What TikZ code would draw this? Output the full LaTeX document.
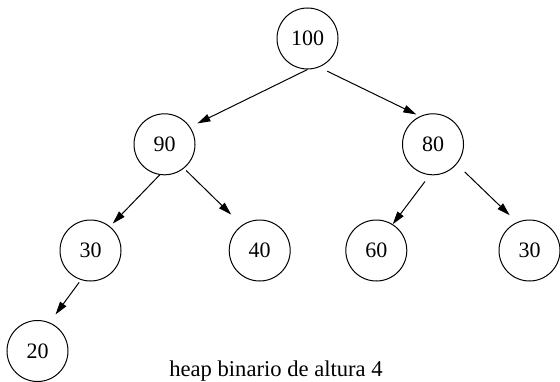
\documentclass[tikz,border=0pt]{standalone}
\usepackage{fontspec}
\setmainfont{Liberation Serif}
\usetikzlibrary{arrows.meta}
\tikzset{
  nodo/.style = {circle, draw, line width = 0.5pt, minimum size = 30.5pt, inner sep = 0pt, font = \fontsize{11}{13}\selectfont},
  arco/.style = {line width = 0.5pt, -{Triangle[length = 6.5pt, width = 3.8pt]}}
}
\begin{document}
\begin{tikzpicture}[x = 0.5pt, y = 0.5pt]
    \useasboundingbox (0,0) rectangle (560,381);
    % Parametri
    \pgfmathsetmacro{\livuno}{342.5}
    \pgfmathsetmacro{\livdue}{236.7}
    \pgfmathsetmacro{\livtre}{130.5}
    \pgfmathsetmacro{\livquattro}{30}
    % Nodi
    \node[nodo] (n100) at (307.5,\livuno) {100};
    \node[nodo] (n90) at (164.5,\livdue) {90};
    \node[nodo] (n80) at (433,\livdue) {80};
    \node[nodo] (n30a) at (90.5,\livtre) {30};
    \node[nodo] (n40) at (259.7,\livtre) {40};
    \node[nodo] (n60) at (376.3,\livtre) {60};
    \node[nodo] (n30b) at (529.5,\livtre) {30};
    \node[nodo] (n20) at (37.5,\livquattro) {20};
    % Archi
    \draw[arco, shorten >= 4pt] (n100.-90) -- (n90.34);
    \draw[arco, shorten <= 4.5pt, shorten >= 2pt] (n100.-68) -- (n80.115);
    \draw[arco, shorten >= 2pt] (n90.-99) -- (n30a.51);
    \draw[arco, shorten <= 1.5pt, shorten >= 7.5pt] (n90.-51) -- (n40.125);
    \draw[arco, shorten <= 4pt] (n80.-96) -- (n60.58);
    \draw[arco, shorten <= 5.5pt, shorten >= 5pt] (n80.-40) -- (n30b.114);
    \draw[arco, shorten <= 1.5pt, shorten >= 5pt] (n30a.-108) -- (n20.67);
    % Didascalia
    \node[anchor = base, font = \fontsize{11.3}{13}\selectfont] (didascalia) at (276,4.3) {heap binario de altura 4};
\end{tikzpicture}
\end{document}
